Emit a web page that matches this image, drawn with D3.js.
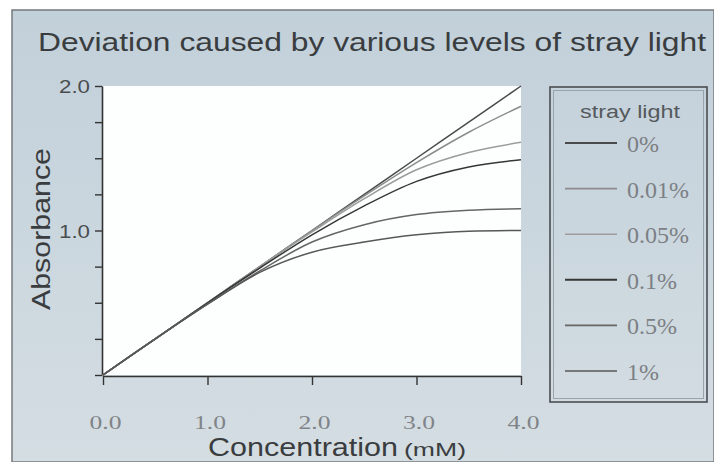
<!DOCTYPE html>
<html>
<head>
<meta charset="utf-8">
<script src="https://cdn.jsdelivr.net/npm/d3@7"></script>
<style>
  html, body { margin: 0; padding: 0; background: #fff; }
  svg { display: block; }
</style>
</head>
<body>
<div id="chart"></div>
<script>
// chart data
const concentration = [0, 0.5, 1.0, 1.5, 2.0, 2.5, 3.0, 3.5, 4.0];
const strayLevels = ['0%', '0.01%', '0.05%', '0.1%', '0.5%', '1%'];
const abs0 =    [0, 0.25, 0.50, 0.75, 1.00, 1.25, 1.50, 1.75, 2.00];
const abs001 =  [0, 0.25, 0.50, 0.75, 1.00, 1.24, 1.47, 1.68, 1.86];
const abs005 =  [0, 0.25, 0.50, 0.75, 0.99, 1.22, 1.42, 1.54, 1.61];
const abs01 =   [0, 0.25, 0.50, 0.74, 0.97, 1.17, 1.34, 1.44, 1.49];
const abs05 =   [0, 0.25, 0.49, 0.72, 0.92, 1.04, 1.11, 1.14, 1.15];
const abs1 =    [0, 0.25, 0.49, 0.71, 0.85, 0.92, 0.97, 0.995, 1.00];
const seriesValues = [abs0, abs001, abs005, abs01, abs05, abs1];
const xTicks = [0, 1, 2, 3, 4];
const yTicks = [0, 0.25, 0.5, 0.75, 1, 1.25, 1.5, 1.75, 2];
const yLabelled = [1, 2];

const width = 714;
const height = 462;
const lineColors = ['#4a4a4a', '#8c8c8c', '#9c9c9c', '#363636', '#666', '#585858'];

const svg = d3.select('#chart')
    .append('svg')
    .attr('width', width)
    .attr('height', height);

// panel background
const defs = svg.append('defs');
const grad = defs.append('linearGradient')
    .attr('id', 'bg')
    .attr('x1', 0).attr('y1', 0).attr('x2', 0).attr('y2', 1);
grad.append('stop').attr('offset', '0%').attr('stop-color', '#c2d0da');
grad.append('stop').attr('offset', '45%').attr('stop-color', '#cad6de');
grad.append('stop').attr('offset', '100%').attr('stop-color', '#d4dde2');

svg.append('rect')
    .attr('x', 12).attr('y', 10)
    .attr('width', width - 12).attr('height', height - 10)
    .attr('fill', 'url(#bg)')
    .attr('stroke', '#767a7e')
    .attr('stroke-width', 1.5);

// scales
const x = d3.scaleLinear().domain([0, 4]).range([103, 521]);
const y = d3.scaleLinear().domain([0, 2]).range([375, 86]);

// white plot area
svg.append('rect')
    .attr('x', x(0)).attr('y', y(2))
    .attr('width', x(4) - x(0)).attr('height', y(0) - y(2))
    .attr('fill', '#fdfefe');

// title
svg.append('text')
    .attr('x', 38).attr('y', 51)
    .attr('textLength', 668)
    .attr('lengthAdjust', 'spacingAndGlyphs')
    .attr('font-family', 'Liberation Sans, Arial, sans-serif')
    .attr('font-size', 25)
    .attr('fill', '#3a3d40')
    .text('Deviation caused by various levels of stray light');

// axes
const xAxis = d3.axisBottom(x)
    .tickValues(xTicks)
    .tickSize(9)
    .tickSizeOuter(0)
    .tickFormat(d3.format('.1f'));

const gx = svg.append('g')
    .attr('transform', `translate(0,${y(0) + 1})`)
    .call(xAxis);
gx.select('.domain').attr('stroke', '#333').attr('stroke-width', 1.6);
gx.selectAll('.tick line').attr('stroke', '#333').attr('stroke-width', 1.4);
gx.selectAll('.tick text')
    .attr('y', 0)
    .attr('dy', 0)
    .attr('transform', 'translate(2,53)')
    .attr('font-family', 'Liberation Serif, Times New Roman, serif')
    .attr('font-size', 19)
    .attr('textLength', 32)
    .attr('lengthAdjust', 'spacingAndGlyphs')
    .attr('fill', '#808488');

const yAxis = d3.axisLeft(y)
    .tickValues(yTicks)
    .tickSize(7)
    .tickSizeOuter(0)
    .tickFormat(d => yLabelled.includes(d) ? d3.format('.1f')(d) : '');

const gy = svg.append('g')
    .attr('transform', `translate(${x(0) - 1},0)`)
    .call(yAxis);
gy.select('.domain').attr('stroke', '#333').attr('stroke-width', 1.6);
gy.selectAll('.tick line').attr('stroke', '#333').attr('stroke-width', 1.4);
gy.selectAll('.tick text')
    .attr('x', -12)
    .attr('dy', '0.36em')
    .attr('font-family', 'Liberation Sans, Arial, sans-serif')
    .attr('font-size', 19)
    .attr('textLength', 31)
    .attr('lengthAdjust', 'spacingAndGlyphs')
    .attr('fill', '#4a4d50');

// axis titles
svg.append('text')
    .attr('transform', `translate(50,310) rotate(-90)`)
    .attr('textLength', 162)
    .attr('lengthAdjust', 'spacingAndGlyphs')
    .attr('font-family', 'Liberation Sans, Arial, sans-serif')
    .attr('font-size', 25)
    .attr('fill', '#3a3d40')
    .text('Absorbance');

const xTitle = svg.append('text')
    .attr('x', 208).attr('y', 456)
    .attr('font-family', 'Liberation Sans, Arial, sans-serif')
    .attr('fill', '#3a3d40');
xTitle.append('tspan')
    .attr('font-size', 25)
    .attr('textLength', 190)
    .attr('lengthAdjust', 'spacingAndGlyphs')
    .text('Concentration');
xTitle.append('tspan')
    .attr('dx', 6)
    .attr('font-size', 18)
    .attr('textLength', 62)
    .attr('lengthAdjust', 'spacingAndGlyphs')
    .text('(mM)');

// curves
const line = d3.line()
    .x((d, i) => x(concentration[i]))
    .y(d => y(d))
    .curve(d3.curveMonotoneX);

svg.append('g')
    .selectAll('path')
    .data(seriesValues)
    .enter()
    .append('path')
    .attr('d', line)
    .attr('fill', 'none')
    .attr('stroke', (d, i) => lineColors[i])
    .attr('stroke-width', 1.5);

// legend
const legend = svg.append('g');
legend.append('rect')
    .attr('x', 550).attr('y', 87)
    .attr('width', 157).attr('height', 315)
    .attr('fill', 'none')
    .attr('stroke', '#4a4e52')
    .attr('stroke-width', 1.6);
legend.append('rect')
    .attr('x', 553.5).attr('y', 90.5)
    .attr('width', 150).attr('height', 308)
    .attr('fill', 'none')
    .attr('stroke', '#9aa3aa')
    .attr('stroke-width', 1);

legend.append('text')
    .attr('x', 580).attr('y', 118)
    .attr('textLength', 100)
    .attr('lengthAdjust', 'spacingAndGlyphs')
    .attr('font-family', 'Liberation Sans, Arial, sans-serif')
    .attr('font-size', 18)
    .attr('fill', '#55595d')
    .text('stray light');

const legendY = d3.scalePoint()
    .domain(strayLevels)
    .range([143, 371]);

const items = legend.selectAll('.item')
    .data(strayLevels)
    .enter()
    .append('g')
    .attr('class', 'item')
    .attr('transform', d => `translate(0,${legendY(d)})`);

items.append('line')
    .attr('x1', 565).attr('x2', 617)
    .attr('stroke', (d, i) => lineColors[i])
    .attr('stroke-width', (d, i) => (i === 0 || i === 3) ? 2 : 1.6);

items.append('text')
    .attr('x', 627).attr('y', 9)
    .attr('font-family', 'Liberation Serif, Times New Roman, serif')
    .attr('font-size', 24)
    .attr('fill', '#7c8084')
    .text(d => d);
</script>
</body>
</html>
